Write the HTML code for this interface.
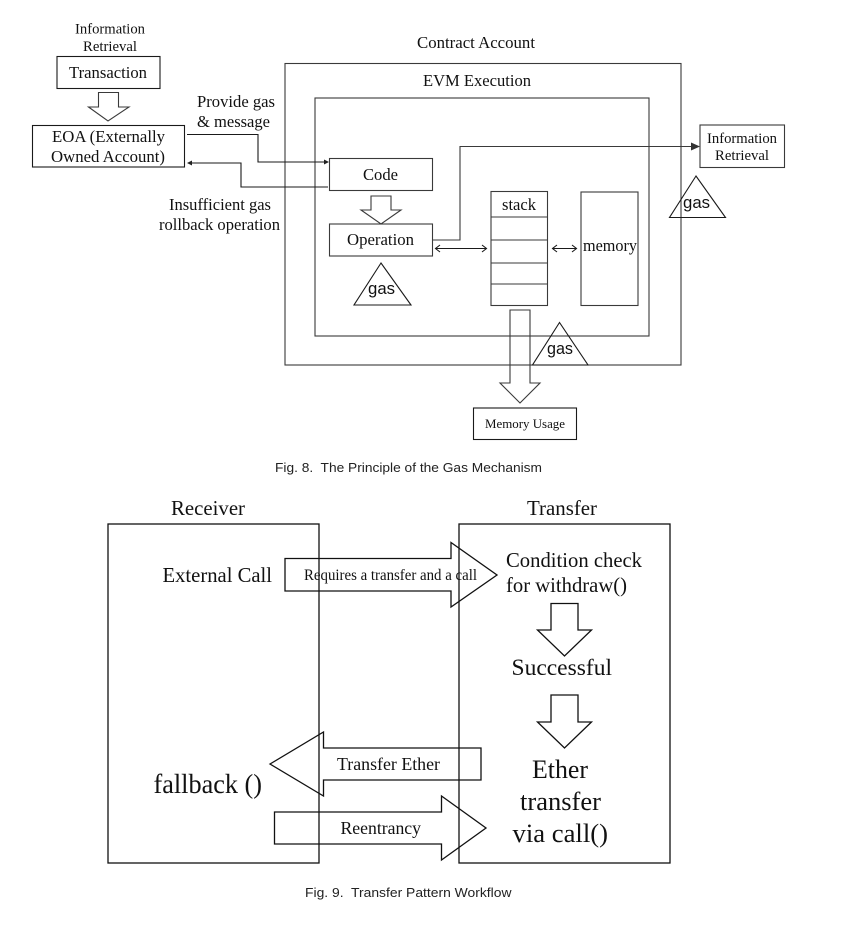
<!DOCTYPE html>
<html><head><meta charset="utf-8"><style>
html,body{margin:0;padding:0;background:#fff;width:863px;height:952px;overflow:hidden}
svg{display:block;filter:blur(0.3px)}
text{font-family:"Liberation Serif",serif;fill:#111;white-space:pre}
.h{font-family:"Liberation Sans",sans-serif;font-size:16.7px}
.c{font-family:"Liberation Sans",sans-serif;fill:#222}
.s{fill:none;stroke:#3a3a3a;stroke-width:1.1}
.k{fill:none;stroke:#1a1a1a;stroke-width:1.1}
.d{fill:none;stroke:#111;stroke-width:1.3}
</style></head><body>
<svg width="863" height="952" viewBox="0 0 863 952" xmlns="http://www.w3.org/2000/svg">
<g>
<rect class="s" x="285" y="63.5" width="396" height="301.5"/>
<rect class="s" x="315" y="98" width="334" height="238"/>
<rect class="k" x="57" y="56.5" width="103" height="32"/>
<rect class="k" x="32.5" y="125.5" width="152" height="41.5"/>
<rect class="s" x="329.5" y="158.5" width="103" height="32"/>
<rect class="s" x="329.5" y="224" width="103" height="32"/>
<rect class="s" x="700" y="125" width="84.500" height="42.500"/>
<rect class="s" x="491" y="191.500" width="56.500" height="114"/>
<path class="s" d="M491 217H547.500M491 240H547.500M491 263H547.500M491 284H547.500"/>
<rect class="s" x="581" y="192" width="57" height="113.500"/>
<rect class="k" x="473.500" y="408" width="103" height="31.500"/>
<path class="s" d="M98.500 92.500H118.500V107H129L108 121L88.500 107H98.500Z"/>
<path class="s" d="M371 196H391V210H401L381 224L361 210H371Z"/>
<path class="s" d="M510 310H530V383H540L520 403L500 383H510Z"/>
<path class="k" d="M187 134.500H258V162H325"/>
<path d="M329 162L324 159.500V164.500Z" fill="#222"/>
<path class="k" d="M328 187H241V163H191"/>
<path d="M187 163L192 160.500V165.500Z" fill="#222"/>
<path class="s" d="M432.500 240H460V146.500H695"/>
<path d="M700 146.500L691 142.500V150.500Z" fill="#333"/>
<path class="k" d="M436 248.500H486M440 245L435.500 248.500L440 252M482 245L486.500 248.500L482 252"/>
<path class="k" d="M553 248.500H576M557 245L552.500 248.500L557 252M572 245L576.500 248.500L572 252"/>
<path class="k" d="M381 263L354 305H411Z"/>
<path class="k" d="M696 176L669.500 217.500H725.500Z"/>
<path class="k" d="M559.500 322.500L532.500 365H588Z"/>

<rect class="d" x="108" y="524" width="211" height="339"/>
<rect class="d" x="459" y="524" width="211" height="339"/>
<path class="d" d="M285 558.500H451V542.500L497 575L451 607V591H285Z"/>
<path class="d" d="M270 764L323.500 732V748H481V780H323.500V796Z"/>
<path class="d" d="M274.500 812H441.500V796L486 828L441.500 860V844H274.500Z"/>
<path class="d" d="M551 603.500H578V630H591.500L564.500 656L537.500 630H551Z"/>
<path class="d" d="M551 695H578V722H591.500L564.500 748L537.500 722H551Z"/>
</g>

<text x="75" y="33.500" font-size="14.600" textLength="70" lengthAdjust="spacingAndGlyphs">Information</text>
<text x="83" y="51" font-size="14.600" textLength="54" lengthAdjust="spacingAndGlyphs">Retrieval</text>
<text x="69" y="78" font-size="16.500" textLength="78" lengthAdjust="spacingAndGlyphs">Transaction</text>
<text x="52" y="142" font-size="16.500" textLength="113" lengthAdjust="spacingAndGlyphs">EOA (Externally</text>
<text x="51" y="162" font-size="16.500" textLength="114" lengthAdjust="spacingAndGlyphs">Owned Account)</text>
<text x="197" y="107" font-size="16.500" textLength="78" lengthAdjust="spacingAndGlyphs">Provide gas</text>
<text x="197" y="127" font-size="16.500" textLength="73" lengthAdjust="spacingAndGlyphs">&amp; message</text>
<text x="169" y="210" font-size="16.500" textLength="102" lengthAdjust="spacingAndGlyphs">Insufficient gas</text>
<text x="159" y="230" font-size="16.500" textLength="121" lengthAdjust="spacingAndGlyphs">rollback operation</text>
<text x="417" y="48" font-size="16.500" textLength="118" lengthAdjust="spacingAndGlyphs">Contract Account</text>
<text x="423" y="86" font-size="16.500" textLength="108" lengthAdjust="spacingAndGlyphs">EVM Execution</text>
<text x="363" y="180" font-size="16.500" textLength="35" lengthAdjust="spacingAndGlyphs">Code</text>
<text x="347" y="245" font-size="16.500" textLength="67" lengthAdjust="spacingAndGlyphs">Operation</text>
<text x="502" y="210" font-size="16.500" textLength="34" lengthAdjust="spacingAndGlyphs">stack</text>
<text x="583" y="251" font-size="16.500" textLength="54" lengthAdjust="spacingAndGlyphs">memory</text>
<text x="707" y="143" font-size="14.600" textLength="70" lengthAdjust="spacingAndGlyphs">Information</text>
<text x="715" y="160" font-size="14.600" textLength="54" lengthAdjust="spacingAndGlyphs">Retrieval</text>
<text x="485" y="428" font-size="12.500" textLength="80" lengthAdjust="spacingAndGlyphs">Memory Usage</text>
<text class="h" x="368" y="294" textLength="27" lengthAdjust="spacingAndGlyphs">gas</text>
<text class="h" x="683" y="208" textLength="27" lengthAdjust="spacingAndGlyphs">gas</text>
<text class="h" x="547" y="354" textLength="26" lengthAdjust="spacingAndGlyphs">gas</text>
<text class="c" x="275" y="472" font-size="12.500" textLength="267" lengthAdjust="spacingAndGlyphs">Fig. 8.  The Principle of the Gas Mechanism</text>

<text x="171" y="515" font-size="20.800" textLength="74" lengthAdjust="spacingAndGlyphs">Receiver</text>
<text x="527" y="515" font-size="20.800" textLength="70" lengthAdjust="spacingAndGlyphs">Transfer</text>
<text x="162.500" y="582" font-size="20.600" textLength="109.500" lengthAdjust="spacingAndGlyphs">External Call</text>
<text x="304" y="580" font-size="15.500" textLength="173" lengthAdjust="spacingAndGlyphs">Requires a transfer and a call</text>
<text x="506" y="567" font-size="21" textLength="136" lengthAdjust="spacingAndGlyphs">Condition check</text>
<text x="506" y="592" font-size="21" textLength="121" lengthAdjust="spacingAndGlyphs">for withdraw()</text>
<text x="511.500" y="675" font-size="23.500" textLength="100.500" lengthAdjust="spacingAndGlyphs">Successful</text>
<text x="337" y="770" font-size="17.500" textLength="103" lengthAdjust="spacingAndGlyphs">Transfer Ether</text>
<text x="153.500" y="793" font-size="27.600" textLength="108.500" lengthAdjust="spacingAndGlyphs">fallback ()</text>
<text x="532" y="778" font-size="26.500" textLength="56" lengthAdjust="spacingAndGlyphs">Ether</text>
<text x="520" y="810" font-size="26.500" textLength="81" lengthAdjust="spacingAndGlyphs">transfer</text>
<text x="512.500" y="842" font-size="26.500" textLength="95.500" lengthAdjust="spacingAndGlyphs">via call()</text>
<text x="340.500" y="834" font-size="17.600" textLength="80.500" lengthAdjust="spacingAndGlyphs">Reentrancy</text>
<text class="c" x="305" y="897" font-size="12.500" textLength="206.500" lengthAdjust="spacingAndGlyphs">Fig. 9.  Transfer Pattern Workflow</text>
</svg>
</body></html>
